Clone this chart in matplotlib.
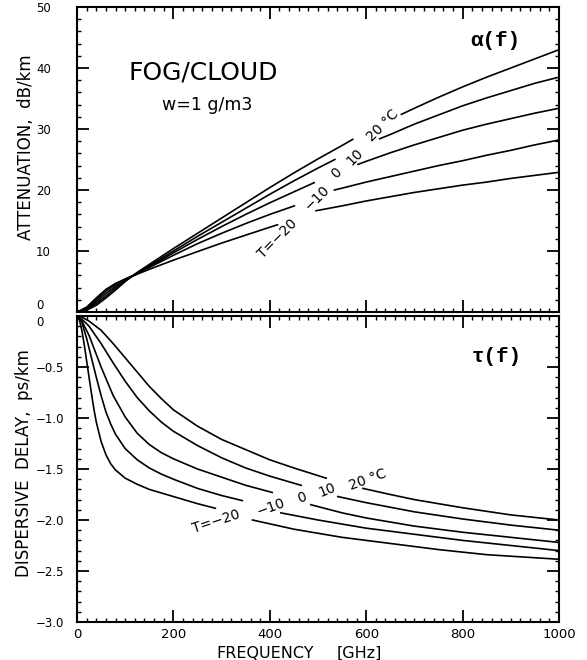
import numpy as np
import matplotlib
matplotlib.use("Agg")
import matplotlib.pyplot as plt
from matplotlib.ticker import MultipleLocator

nan = np.nan

# ---------------- data ----------------
temps = ["20", "10", "0", "-10", "-20"]

# Attenuation alpha(f) [dB/km]; nan marks the gap where the curve label sits
att_f_20 = [0, 20, 40, 60, 80, 100, 125, 150, 200, 250, 300, 350, 400, 450, 500, 550, 572, nan, 673, 700, 750, 800, 850, 900, 950, 1000]
att_20 = [0, 0.3, 1.1, 2.3, 3.6, 5.0, 6.5, 7.8, 10.4, 12.9, 15.4, 17.9, 20.4, 22.8, 25.1, 27.3, 28.3, nan, 32.4, 33.4, 35.2, 36.9, 38.5, 40.0, 41.5, 43.0]

att_f_10 = [0, 20, 40, 60, 80, 100, 125, 150, 200, 250, 300, 350, 400, 450, 500, 535, nan, 628, 650, 700, 750, 800, 850, 900, 950, 1000]
att_10 = [0, 0.4, 1.4, 2.6, 3.9, 5.1, 6.4, 7.6, 10.0, 12.4, 14.7, 17.0, 19.3, 21.5, 23.6, 25.0, nan, 28.4, 29.1, 30.8, 32.3, 33.8, 35.1, 36.3, 37.5, 38.5]

att_f_0 = [0, 20, 40, 60, 80, 100, 125, 150, 200, 250, 300, 350, 400, 450, 492, nan, 583, 600, 650, 700, 750, 800, 850, 900, 950, 1000]
att_0 = [0, 0.5, 1.7, 3.0, 4.2, 5.3, 6.3, 7.4, 9.7, 11.9, 14.0, 16.0, 17.9, 19.7, 21.2, nan, 24.2, 24.7, 26.1, 27.4, 28.6, 29.8, 30.8, 31.7, 32.6, 33.4]

att_f_m10 = [0, 20, 40, 60, 80, 100, 125, 150, 200, 250, 300, 350, 400, 451, nan, 534, 550, 600, 650, 700, 750, 800, 850, 900, 950, 1000]
att_m10 = [0, 0.6, 2.0, 3.4, 4.5, 5.4, 6.3, 7.3, 9.3, 11.2, 12.9, 14.5, 16.0, 17.4, nan, 20.0, 20.3, 21.3, 22.2, 23.1, 24.0, 24.8, 25.7, 26.5, 27.4, 28.2]

att_f_m20 = [0, 20, 40, 60, 80, 100, 125, 150, 200, 250, 300, 350, 400, 416, nan, 496, 550, 600, 650, 700, 750, 800, 850, 900, 950, 1000]
att_m20 = [0, 0.8, 2.3, 3.7, 4.7, 5.4, 6.2, 7.0, 8.5, 9.9, 11.3, 12.6, 13.9, 14.3, nan, 16.6, 17.4, 18.2, 18.9, 19.6, 20.2, 20.8, 21.3, 21.9, 22.4, 22.9]

# Dispersive delay tau(f) [ps/km]
del_f_20 = [0, 10, 25, 50, 75, 100, 125, 150, 175, 200, 250, 300, 350, 400, 450, 517, nan, 593, 650, 700, 800, 900, 1000]
del_20 = [0, -0.01, -0.05, -0.14, -0.27, -0.41, -0.55, -0.69, -0.81, -0.92, -1.08, -1.21, -1.31, -1.41, -1.49, -1.59, nan, -1.69, -1.75, -1.80, -1.88, -1.95, -2.00]

del_f_10 = [0, 10, 25, 50, 75, 100, 125, 150, 175, 200, 250, 300, 350, 400, 465, nan, 541, 600, 700, 800, 900, 1000]
del_10 = [0, -0.03, -0.10, -0.27, -0.46, -0.64, -0.80, -0.93, -1.04, -1.13, -1.27, -1.39, -1.49, -1.57, -1.66, nan, -1.77, -1.83, -1.92, -1.99, -2.05, -2.10]

del_f_0 = [0, 10, 25, 50, 75, 100, 125, 150, 175, 200, 250, 300, 350, 405, nan, 485, 550, 600, 700, 800, 900, 1000]
del_0 = [0, -0.05, -0.19, -0.50, -0.78, -0.99, -1.15, -1.26, -1.34, -1.40, -1.50, -1.58, -1.66, -1.73, nan, -1.85, -1.93, -1.98, -2.06, -2.12, -2.17, -2.22]

del_f_m10 = [0, 10, 20, 30, 40, 50, 60, 70, 80, 100, 125, 150, 175, 200, 250, 300, 343, nan, 423, 500, 600, 700, 800, 900, 1000]
del_m10 = [0, -0.06, -0.22, -0.41, -0.60, -0.78, -0.94, -1.06, -1.16, -1.30, -1.41, -1.49, -1.55, -1.60, -1.69, -1.76, -1.81, nan, -1.93, -2.00, -2.08, -2.14, -2.20, -2.25, -2.30]

del_f_m20 = [0, 5, 10, 15, 20, 25, 30, 35, 40, 50, 60, 70, 80, 100, 125, 150, 200, 250, 287, nan, 364, 450, 550, 650, 750, 850, 1000]
del_m20 = [0, -0.04, -0.14, -0.28, -0.44, -0.60, -0.76, -0.91, -1.04, -1.23, -1.36, -1.45, -1.51, -1.59, -1.65, -1.70, -1.77, -1.84, -1.885, nan, -2.00, -2.09, -2.17, -2.23, -2.29, -2.34, -2.385]

att_series = [(att_f_20, att_20), (att_f_10, att_10), (att_f_0, att_0), (att_f_m10, att_m10), (att_f_m20, att_m20)]
del_series = [(del_f_20, del_20), (del_f_10, del_10), (del_f_0, del_0), (del_f_m10, del_m10), (del_f_m20, del_m20)]

x_ticks = [0, 200, 400, 600, 800, 1000]
x_ticklabels = ["0", "200", "400", "600", "800", "1000"]
att_ticks = [0, 10, 20, 30, 40, 50]
att_ticklabels = ["0", "10", "20", "30", "40", "50"]
del_ticks = [0, -0.5, -1.0, -1.5, -2.0, -2.5, -3.0]
del_ticklabels = ["0", "\u22120.5", "\u22121.0", "\u22121.5", "\u22122.0", "\u22122.5", "\u22123.0"]

# curve labels: (text, f, value, rotation)
att_labels = [("T=\u221220", 416, 12.0, 45), ("\u221210", 498, 18.7, 45), ("0", 539, 22.8, 45),
              ("10", 576, 25.4, 45), ("20 \u00b0C", 635, 30.6, 45)]
del_labels = [("T=\u221220", 289, -2.02, 18), ("\u221210", 402, -1.87, 20), ("0", 466, -1.78, 20),
              ("10", 519, -1.71, 22), ("20 \u00b0C", 604, -1.60, 20)]

# ---------------- figure ----------------
plt.rcParams['font.family'] = ['DejaVu Sans']
W, H = 587, 660
fig = plt.figure(figsize=(W / 100, H / 100), dpi=100)

left = 77 / W
width = (559 - 77) / W
ax1 = fig.add_axes([left, 1 - 312 / H, width, (312 - 7) / H])
ax2 = fig.add_axes([left, 1 - 622 / H, width, (622 - 316) / H])

for ax in (ax1, ax2):
    ax.set_xlim(0, 1000)
    ax.xaxis.set_major_locator(MultipleLocator(200))
    ax.xaxis.set_minor_locator(MultipleLocator(20))
    ax.tick_params(which='both', direction='in', top=True, right=True, colors='black')
    ax.tick_params(which='major', length=8.5, width=1.3)
    ax.tick_params(which='minor', length=3, width=1.0)
    ax.tick_params(axis='y', which='major', pad=29.5, labelsize=8.5)
    ax.tick_params(axis='x', which='major', pad=4, labelsize=9.5)
    for s in ax.spines.values():
        s.set_linewidth(1.5)

# top panel
ax1.set_ylim(0, 50)
ax1.yaxis.set_major_locator(MultipleLocator(10))
ax1.yaxis.set_minor_locator(MultipleLocator(2))
ax1.set_yticks(att_ticks)
ax1.set_yticklabels(att_ticklabels)
ax1.tick_params(axis='x', labelbottom=False)
for f, a in att_series:
    ax1.plot(f, a, color='black', lw=1.2)
for txt, f, v, r in att_labels:
    ax1.text(f, v, txt, rotation=r, ha='center', va='center', fontsize=10,
             rotation_mode='anchor')

ax1.text(0.262, 0.785, "FOG/CLOUD", transform=ax1.transAxes, ha='center', va='center', fontsize=18)
ax1.text(0.27, 0.68, "w=1 g/m3", transform=ax1.transAxes, ha='center', va='center', fontsize=12.5)
ax1.text(0.867, 0.889, "\u03b1(f)", transform=ax1.transAxes, ha='center', va='center', fontsize=15,
         fontweight='bold', family=['Liberation Mono', 'DejaVu Sans Mono'])

# bottom panel
ax2.set_ylim(-3.0, 0)
ax2.yaxis.set_minor_locator(MultipleLocator(0.1))
ax2.set_yticks(del_ticks)
ax2.set_yticklabels(del_ticklabels)
ax2.set_xticks(x_ticks)
ax2.set_xticklabels(x_ticklabels)
for f, d in del_series:
    ax2.plot(f, d, color='black', lw=1.2)
for txt, f, v, r in del_labels:
    ax2.text(f, v, txt, rotation=r, ha='center', va='center', fontsize=10,
             rotation_mode='anchor')
ax2.text(0.871, 0.869, "\u03c4(f)", transform=ax2.transAxes, ha='center', va='center', fontsize=15,
         fontweight='bold', family=['Liberation Mono', 'DejaVu Sans Mono'])

# y tick labels left aligned, and stacked zeros at the junction
for ax in (ax1, ax2):
    for lab in ax.get_yticklabels():
        lab.set_horizontalalignment('left')
ax1.get_yticklabels()[0].set_verticalalignment('bottom')
ax2.get_yticklabels()[0].set_verticalalignment('top')

# axis titles
fig.text(26 / W, 1 - 147 / H, "ATTENUATION,  dB/km", rotation=90, ha='center', va='center', fontsize=12)
fig.text(24 / W, 1 - 463 / H, "DISPERSIVE  DELAY,  ps/km", rotation=90, ha='center', va='center', fontsize=12)
fig.text(265 / W, 1 - 653 / H, "FREQUENCY", ha='center', va='center', fontsize=11.5)
fig.text(359 / W, 1 - 653 / H, "[GHz]", ha='center', va='center', fontsize=11.5)

fig.savefig("out.png", dpi=100)
